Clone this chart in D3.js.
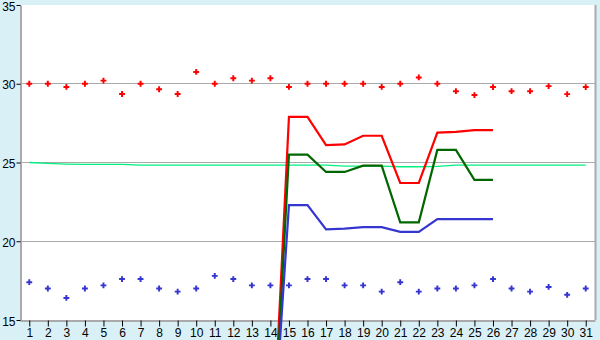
<!DOCTYPE html>
<html>
<head>
<meta charset="utf-8">
<script src="https://cdn.jsdelivr.net/npm/d3@7"></script>
<style>
  body { margin: 0; background: #daf0f7; }
  svg { display: block; }
  .axis text { font-family: "Liberation Sans", Arial, sans-serif; font-size: 12px; fill: #000; }
</style>
</head>
<body>
<script>
'use strict';

(function() {
  // days 1..31
  const days = d3.range(1, 32);
  const yTicks = [15, 20, 25, 30, 35];
  const gridValues = [20, 25, 30];

  // scattered daily points
  const redPoints = [30.0, 30.0, 29.8, 30.0, 30.2, 29.35, 30.0, 29.65, 29.35, 30.75,
    30.0, 30.35, 30.2, 30.35, 29.8, 30.0, 30.0, 30.0, 30.0, 29.8,
    30.0, 30.4, 30.0, 29.53, 29.28, 29.79, 29.53, 29.53, 29.85, 29.34, 29.79];
  const bluePoints = [17.4, 17.0, 16.4, 17.0, 17.2, 17.6, 17.6, 17.0, 16.8, 17.0,
    17.8, 17.6, 17.2, 17.2, 17.2, 17.6, 17.6, 17.2, 17.2, 16.8,
    17.4, 16.8, 17.0, 17.0, 17.2, 17.6, 17.0, 16.8, 17.1, 16.6, 17.0];

  // lines (days 14..26)
  const lineDays = [14, 15, 16, 17, 18, 19, 20, 21, 22, 23, 24, 25, 26];
  const redLine = [3.8, 27.9, 27.9, 26.1, 26.15, 26.7, 26.7, 23.7, 23.7, 26.9, 26.95, 27.05, 27.05];
  const greenLine = [3.6, 25.5, 25.5, 24.4, 24.4, 24.8, 24.8, 21.2, 21.2, 25.8, 25.8, 23.9, 23.9];
  const blueLine = [4.5, 22.3, 22.3, 20.75, 20.8, 20.9, 20.9, 20.6, 20.6, 21.4, 21.4, 21.4, 21.4];

  // thin reference line across all days
  const cyanLine = [25.0, 24.94, 24.9, 24.88, 24.88, 24.88, 24.83, 24.83, 24.83, 24.83,
    24.83, 24.83, 24.83, 24.83, 24.83, 24.83, 24.83, 24.77, 24.77, 24.77,
    24.73, 24.73, 24.75, 24.83, 24.83, 24.83, 24.83, 24.83, 24.83, 24.83, 24.83];

  let width = 600;
  let height = 340;
  let left = 20, right = 595, top = 5, bottom = 320;

  let svg = d3.select('body')
    .append('svg')
    .attr('width', width)
    .attr('height', height);

  let x = d3.scaleLinear().domain([0.5, 31.5]).range([left, right]);
  let y = d3.scaleLinear().domain([15, 35]).range([bottom, top]);

  // plot background
  svg.append('rect')
    .attr('x', left).attr('y', top)
    .attr('width', right - left).attr('height', bottom - top)
    .attr('fill', '#fff');

  // grid lines
  svg.selectAll('.grid')
    .data(gridValues)
    .enter()
    .append('line')
      .attr('class', 'grid')
      .attr('x1', left).attr('x2', right)
      .attr('y1', d => Math.floor(y(d)) + 0.5)
      .attr('y2', d => Math.floor(y(d)) + 0.5)
      .attr('stroke', '#aaa');

  // right border
  svg.append('line')
    .attr('x1', right + 0.5).attr('x2', right + 0.5)
    .attr('y1', top).attr('y2', bottom)
    .attr('stroke', '#aaa').attr('stroke-width', 2);

  // axes
  let xAxis = d3.axisBottom(x).tickValues(days).tickSize(6).tickPadding(2).tickSizeOuter(0);
  let gx = svg.append('g')
    .attr('class', 'axis')
    .attr('transform', 'translate(0,' + (bottom + 0.5) + ')')
    .call(xAxis);
  gx.select('.domain').attr('stroke', '#aaa').attr('stroke-width', 2);
  gx.selectAll('.tick line').attr('stroke', '#000');

  let yAxis = d3.axisLeft(y).tickValues(yTicks).tickSize(4).tickPadding(1).tickSizeOuter(0);
  let gy = svg.append('g')
    .attr('class', 'axis')
    .attr('transform', 'translate(' + (left + 0.5) + ',0)')
    .call(yAxis);
  gy.select('.domain').attr('stroke', '#aaa').attr('stroke-width', 2);
  gy.selectAll('.tick line').attr('stroke', '#000');
  gy.selectAll('.tick text').attr('dy', '0.42em');

  // thin cyan line
  let line = d3.line()
    .x(d => x(d[0]))
    .y(d => y(d[1]));

  svg.append('path')
    .datum(days.map((d, i) => [d, cyanLine[i]]))
    .attr('d', line)
    .attr('fill', 'none')
    .attr('stroke', '#00f080')
    .attr('stroke-width', 1.3);

  // point markers
  let cross = d3.symbol().type(d3.symbolCross).size(19);
  function drawPoints(values, color) {
    svg.append('g')
      .selectAll('path')
      .data(days.map((d, i) => [d, values[i]]))
      .enter()
      .append('path')
        .attr('d', cross)
        .attr('transform', d => 'translate(' + x(d[0]) + ',' + y(d[1]) + ')')
        .attr('fill', color);
  }
  drawPoints(redPoints, '#ff0000');
  drawPoints(bluePoints, '#3535cf');

  // thick lines
  function drawLine(values, color) {
    svg.append('path')
      .datum(lineDays.map((d, i) => [d, values[i]]))
      .attr('d', line)
      .attr('fill', 'none')
      .attr('stroke', color)
      .attr('stroke-width', 2.2);
  }
  drawLine(redLine, '#ff0000');
  drawLine(greenLine, '#006600');
  drawLine(blueLine, '#3535cf');
})();
</script>
</body>
</html>
